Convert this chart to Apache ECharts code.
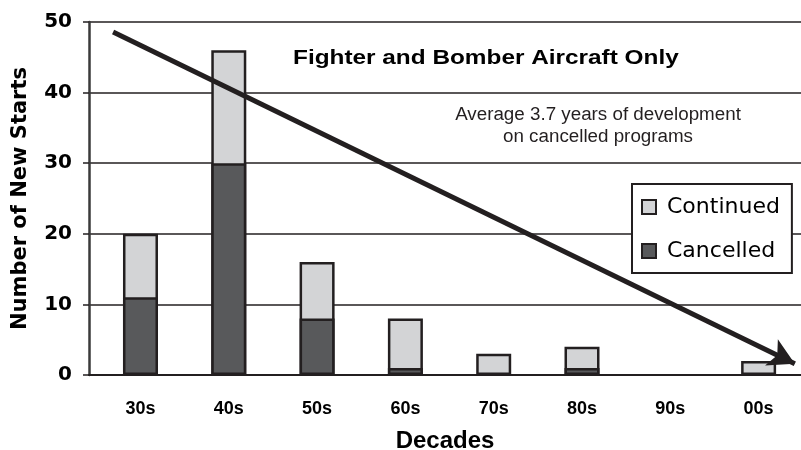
<!DOCTYPE html>
<html>
<head>
<meta charset="utf-8">
<script src="https://cdn.jsdelivr.net/npm/echarts@6/dist/echarts.min.js"></script>
<style>
  html, body { margin: 0; padding: 0; background: #fff; }
  #chart { width: 801px; height: 450px; }
</style>
</head>
<body>
<div id="chart"></div>
<script>
// decade categories and counts
const decades = ["30s", "40s", "50s", "60s", "70s", "80s", "90s", "00s"];
const cancelled = [11, 30, 8, 1, 0, 1, 0, 0];
const continued = [9, 16, 8, 7, 3, 3, 0, 2];
const yTicks = [0, 10, 20, 30, 40, 50];
// trend arrow ends, in data units [decade index, count]
const trendStart = [-0.31, 48.6];
const trendEnd = [7.41, 1.6];

const ink = "#231f20";
const font = "'Liberation Sans', Arial, sans-serif";
const wide = "'DejaVu Sans', sans-serif";

const chart = echarts.init(document.getElementById("chart"));

// stacked look: full height (cancelled + continued) in light grey, cancelled drawn over it
const totals = cancelled.map(function (v, i) { return v + continued[i]; });

function barData(arr) {
    return arr.map(function (v, i) {
        let item = { value: [i, v] };
        if (v === 0) item.itemStyle = { borderWidth: 0 };
        return item;
    });
}

const option = {
    animation: false,
    backgroundColor: "#fff",
    grid: { left: 89, right: 0, top: 22, bottom: 75, outerBoundsMode: "none", containLabel: false },
    xAxis: {
        type: "value",
        min: -0.583,
        max: 7.48,
        name: "Decades",
        nameLocation: "middle",
        nameGap: 54,
        nameTextStyle: { fontFamily: font, fontSize: 24, fontWeight: "bold", color: "#000" },
        axisLine: { show: true, lineStyle: { color: ink, width: 2 } },
        axisTick: { show: false },
        splitLine: { show: false },
        axisLabel: {
            customValues: decades.map(function (d, i) { return i; }),
            formatter: function (v) { return decades[Math.round(v)]; },
            margin: 25,
            fontFamily: font, fontSize: 18, fontWeight: "bold", color: "#000"
        }
    },
    yAxis: {
        type: "value",
        min: 0,
        max: 50,
        interval: 10,
        name: "Number of New Starts",
        nameLocation: "middle",
        nameGap: 58,
        nameRotate: 90,
        nameTextStyle: { fontFamily: wide, fontSize: 21, fontWeight: "bold", color: "#000" },
        axisLine: { show: true, onZero: false, lineStyle: { color: "#3a3a3a", width: 2.5 } },
        axisTick: { show: true, length: 6, lineStyle: { color: ink, width: 1.5 } },
        axisLabel: {
            customValues: yTicks,
            margin: 17,
            fontFamily: wide, fontSize: 20, fontWeight: "bold", color: "#000"
        },
        splitLine: { show: true, lineStyle: { color: ink, width: 1.5 } }
    },
    legend: {
        orient: "vertical",
        left: 632,
        top: 184,
        padding: [12, 12, 11, 9],
        itemGap: 22,
        itemWidth: 14,
        itemHeight: 14,
        backgroundColor: "#fff",
        borderColor: ink,
        borderWidth: 2,
        borderRadius: 0,
        textStyle: { fontFamily: wide, fontSize: 22, color: "#000", padding: [0, 0, 0, 6] },
        data: [
            { name: "Continued", icon: "rect", itemStyle: { color: "#d3d4d6", borderColor: ink, borderWidth: 2 } },
            { name: "Cancelled", icon: "rect", itemStyle: { color: "#58595b", borderColor: ink, borderWidth: 2 } }
        ]
    },
    graphic: [
        {
            type: "text", x: 293, y: 48, scaleX: 1.16, z: 5,
            style: { x: 0, y: 0, text: "Fighter and Bomber Aircraft Only", font: "bold 21px " + font, fill: "#000", verticalAlign: "top" }
        },
        {
            type: "text", x: 598, y: 104, z: 5,
            style: {
                x: 0, y: 0,
                text: "Average 3.7 years of development\non cancelled programs",
                font: "18.8px " + font, fill: ink, align: "center", verticalAlign: "top", lineHeight: 22
            }
        }
    ],
    series: [
        {
            name: "Continued",
            type: "bar",
            barWidth: 35,
            barGap: "-100%",
            data: barData(totals),
            itemStyle: { color: "#d3d4d6", borderColor: ink, borderWidth: 2.5 },
            z: 2,
            markLine: {
                silent: true,
                symbol: ["none", "arrow"],
                symbolSize: [22, 26],
                label: { show: false },
                lineStyle: { color: ink, width: 5, type: "solid" },
                z: 10,
                data: [[{ coord: trendStart }, { coord: trendEnd }]]
            }
        },
        {
            name: "Cancelled",
            type: "bar",
            barWidth: 35,
            barGap: "-100%",
            data: barData(cancelled),
            itemStyle: { color: "#58595b", borderColor: ink, borderWidth: 2.5 },
            z: 3
        }
    ]
};

chart.setOption(option);
</script>
</body>
</html>
